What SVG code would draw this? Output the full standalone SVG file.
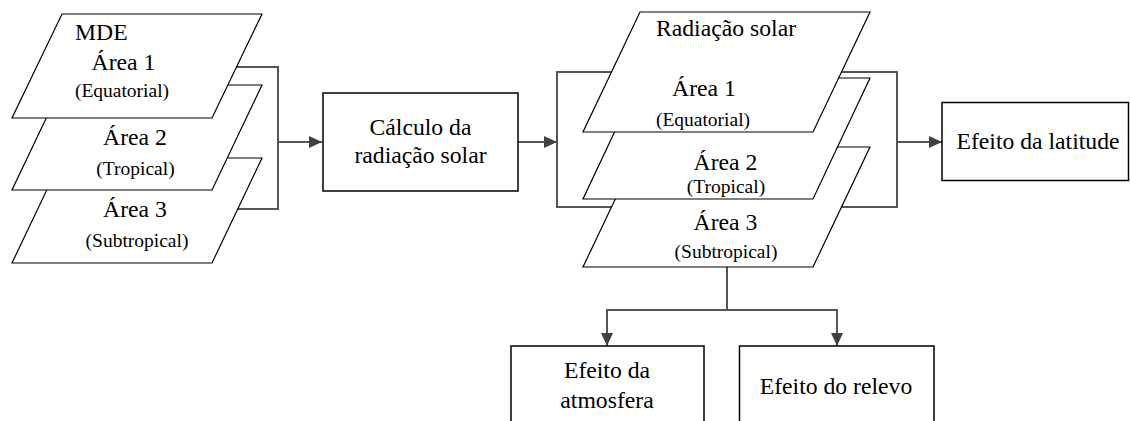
<svg xmlns="http://www.w3.org/2000/svg" width="1130" height="421" viewBox="0 0 1130 421">
<defs>
<marker id="arr" markerUnits="userSpaceOnUse" markerWidth="14" markerHeight="12" refX="13" refY="6" orient="auto">
<path d="M0,0 L13,6 L0,12 z" fill="#404040"/>
</marker>
</defs>
<style>
.lyr{fill:#fff;stroke:#000;stroke-width:1.2}
.box{fill:#fff;stroke:#000;stroke-width:1.5}
.con{fill:none;stroke:#555;stroke-width:2}
.arr{fill:none;stroke:#555;stroke-width:2;marker-end:url(#arr)}
text{font-family:"Liberation Serif","Times New Roman",serif;fill:#000}
.big{font-size:23.7px}
.sm{font-size:19.5px}
.c{text-anchor:middle}
</style>
<rect width="1130" height="421" fill="#fff"/>
<g id="connectors">
<path class="con" d="M220,67 H278 V209 H220"/>
<path class="arr" d="M278,142 H322"/>
<rect class="con" x="557" y="72" width="340" height="135"/>
<path class="arr" d="M518,142 H557"/>
<path class="arr" d="M897,142 H942"/>
<path class="con" d="M727,267 V310 M607,310 H837"/>
<path class="arr" d="M607,309 V346"/>
<path class="arr" d="M837,309 V346"/>
</g>
<g id="mde">
<g id="mde-area3">
<polygon class="lyr" points="62,158 262,158 212,263 12,263"/>
<text class="big c" x="135" y="217">Área 3</text>
<text class="sm c" x="137" y="247">(Subtropical)</text>
</g>
<g id="mde-area2">
<polygon class="lyr" points="62,85 262,85 212,190 12,190"/>
<text class="big c" x="135" y="145">Área 2</text>
<text class="sm c" x="135.5" y="175">(Tropical)</text>
</g>
<g id="mde-area1">
<polygon class="lyr" points="62,14 262,14 212,118 12,118"/>
<text class="big" x="75" y="40">MDE</text>
<text class="big c" x="123.5" y="70">Área 1</text>
<text class="sm c" x="122" y="97">(Equatorial)</text>
</g>
</g>
<g id="calculo">
<rect class="box" x="323" y="93" width="195" height="98"/>
<text class="big c" x="420.5" y="135">Cálculo da</text>
<text class="big c" x="420.5" y="163">radiação solar</text>
</g>
<g id="radiacao">
<g id="rad-area3">
<polygon class="lyr" points="640,147 870,147 813,267 583,267"/>
<text class="big c" x="725.5" y="230">Área 3</text>
<text class="sm c" x="726" y="258">(Subtropical)</text>
</g>
<g id="rad-area2">
<polygon class="lyr" points="640,78 870,78 813,199 583,199"/>
<text class="big c" x="725.5" y="170">Área 2</text>
<text class="sm c" x="726" y="193">(Tropical)</text>
</g>
<g id="rad-area1">
<polygon class="lyr" points="640,12 870,12 813,132 583,132"/>
<text class="big c" x="726" y="36">Radiação solar</text>
<text class="big c" x="704" y="96">Área 1</text>
<text class="sm c" x="703" y="126">(Equatorial)</text>
</g>
</g>
<g id="latitude">
<rect class="box" x="942" y="102.5" width="186.5" height="78"/>
<text class="big c" x="1038" y="149">Efeito da latitude</text>
</g>
<g id="atmosfera">
<rect class="box" x="511" y="346" width="193" height="90"/>
<text class="big c" x="607" y="378">Efeito da</text>
<text class="big c" x="607" y="408">atmosfera</text>
</g>
<g id="relevo">
<rect class="box" x="739.5" y="346" width="194.5" height="90"/>
<text class="big c" x="836" y="394">Efeito do relevo</text>
</g>
</svg>
